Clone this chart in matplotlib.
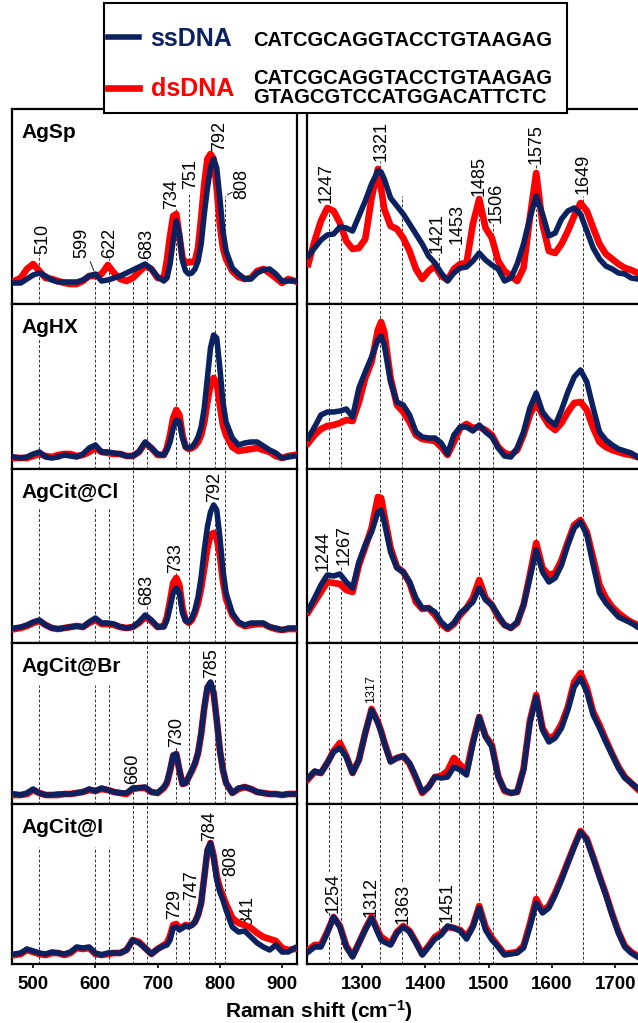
import matplotlib
matplotlib.use('Agg')
import matplotlib.pyplot as plt

plt.rcParams['font.family'] = ['Liberation Sans', 'DejaVu Sans']
plt.rcParams['mathtext.fontset'] = 'custom'
plt.rcParams['mathtext.bf'] = 'Liberation Sans:bold'
plt.rcParams['mathtext.rm'] = 'Liberation Sans'
plt.rcParams['mathtext.default'] = 'bf'

# amostras (linhas de paineis)
samples = ['AgSp', 'AgHX', 'AgCit@Cl', 'AgCit@Br', 'AgCit@I']

# deslocamento Raman (cm-1), faixa baixa e faixa alta
x_low = [470, 480, 490, 500, 510, 520, 530, 540, 550, 560, 570, 580, 590, 600, 610, 620,
         630, 640, 650, 660, 670, 680, 690, 700, 710, 715, 720, 725, 730, 735, 740, 745,
         750, 755, 760, 765, 770, 775, 780, 785, 790, 795, 800, 805, 810, 820, 830, 840,
         850, 860, 870, 880, 890, 900, 910, 920]
x_high = [1215, 1225, 1235, 1245, 1255, 1265, 1275, 1285, 1295, 1305, 1315, 1325, 1330,
          1335, 1345, 1355, 1365, 1375, 1385, 1395, 1405, 1415, 1425, 1435, 1445, 1455,
          1465, 1475, 1485, 1495, 1505, 1515, 1525, 1535, 1545, 1555, 1565, 1575, 1585,
          1595, 1605, 1615, 1625, 1635, 1645, 1655, 1665, 1675, 1685, 1695, 1705, 1715,
          1725, 1735]

# intensidades (u.a.) - ssDNA
ss_low = [
    [21, 21, 25, 29, 31, 28, 24, 22, 22, 22, 22, 24, 28, 30, 23, 24, 26, 28, 31, 34, 37, 40, 35, 27, 23,
     26, 40, 63, 83, 70, 43, 33, 30, 31, 35, 43, 60, 90, 116, 136, 145, 136, 106, 73, 53,
     36, 30, 25, 25, 31, 34, 35, 30, 23, 23, 23],
    [12, 11, 12, 15, 17, 12, 11, 12, 14, 13, 12, 15, 21, 24, 17, 17, 16, 15, 13, 13, 17, 27, 21, 15, 14,
     19, 27, 41, 49, 47, 31, 22, 21, 22, 26, 32, 42, 61, 91, 121, 134, 131, 101, 67, 47,
     31, 24, 26, 27, 27, 23, 19, 16, 11, 12, 13],
    [15, 16, 18, 21, 23, 18, 15, 14, 15, 16, 17, 16, 21, 25, 20, 20, 19, 16, 15, 16, 21, 28, 23, 16, 16,
     23, 36, 50, 55, 50, 30, 22, 21, 25, 33, 46, 66, 93, 116, 131, 138, 133, 106, 73, 50,
     30, 21, 18, 20, 20, 20, 16, 15, 13, 15, 15],
    [10, 9, 11, 15, 11, 9, 9, 10, 10, 10, 11, 12, 15, 13, 16, 14, 12, 11, 11, 16, 16, 17, 12, 11, 17,
     22, 34, 49, 50, 34, 20, 21, 27, 34, 41, 51, 71, 97, 117, 122, 111, 84, 54, 34, 21,
     11, 16, 17, 15, 12, 11, 10, 10, 9, 10, 10],
    [10, 11, 15, 13, 11, 10, 12, 11, 10, 12, 17, 16, 17, 11, 9, 11, 11, 11, 14, 24, 21, 16, 10, 15, 18,
     19, 24, 36, 37, 34, 36, 38, 37, 39, 42, 49, 61, 87, 114, 121, 106, 84, 72, 64, 54,
     37, 32, 33, 27, 21, 17, 14, 19, 12, 12, 16],
]
ss_high = [
    [48, 56, 64, 69, 70, 77, 76, 73, 88, 103, 120, 133, 132, 125, 106, 98, 90, 80, 70, 60, 48, 41, 31,
     23, 31, 36, 37, 43, 51, 44, 39, 35, 23, 26, 40, 60, 86, 108, 90, 68, 71, 85, 93, 96, 90, 73,
     56, 45, 38, 35, 31, 30, 26, 25],
    [31, 42, 54, 57, 57, 58, 60, 52, 81, 97, 112, 129, 133, 124, 87, 67, 64, 54, 37, 32, 31, 31, 26,
     15, 34, 42, 42, 38, 44, 37, 32, 21, 13, 12, 21, 37, 61, 76, 57, 49, 44, 59, 77, 92, 99, 87,
     61, 37, 29, 24, 20, 18, 16, 12],
    [33, 45, 58, 68, 67, 69, 61, 55, 81, 98, 111, 131, 133, 121, 91, 75, 71, 61, 45, 35, 35, 31, 21,
     15, 20, 30, 35, 41, 55, 43, 38, 28, 18, 15, 21, 38, 65, 93, 71, 61, 65, 78, 98, 115, 121, 108,
     78, 50, 40, 33, 26, 23, 20, 16],
    [26, 33, 31, 41, 52, 56, 47, 31, 44, 71, 94, 81, 72, 61, 42, 46, 48, 41, 27, 12, 17, 27, 26,
     27, 37, 34, 29, 60, 87, 67, 57, 27, 14, 11, 12, 34, 81, 107, 74, 62, 66, 76, 94, 117, 126, 112,
     89, 76, 62, 49, 36, 26, 21, 16],
    [12, 17, 17, 31, 47, 37, 17, 7, 21, 34, 46, 31, 24, 22, 19, 31, 37, 32, 21, 9, 17, 25, 29,
     38, 36, 33, 25, 37, 56, 34, 24, 17, 9, 10, 11, 16, 37, 61, 51, 56, 69, 84, 101, 117, 132, 124,
     106, 87, 69, 49, 31, 17, 11, 7],
]

# intensidades (u.a.) - dsDNA
ds_low = [
    [23, 26, 35, 40, 33, 26, 25, 23, 21, 20, 20, 23, 28, 28, 30, 39, 31, 25, 23, 26, 32, 38, 35, 26, 26,
     44, 68, 88, 90, 68, 46, 41, 42, 42, 43, 56, 86, 120, 145, 150, 145, 116, 80, 56, 45,
     33, 27, 25, 26, 33, 35, 31, 26, 21, 25, 23],
    [11, 11, 11, 13, 15, 13, 12, 14, 15, 15, 13, 14, 17, 21, 17, 16, 15, 15, 13, 13, 17, 26, 21, 14, 14,
     21, 34, 51, 59, 54, 34, 22, 20, 21, 23, 27, 34, 47, 67, 84, 91, 86, 64, 44, 34,
     22, 18, 19, 20, 21, 19, 17, 13, 11, 13, 14],
    [14, 15, 17, 20, 22, 18, 15, 14, 15, 16, 17, 16, 20, 23, 19, 19, 18, 16, 15, 16, 20, 26, 22, 16, 17,
     26, 42, 60, 65, 58, 35, 23, 20, 23, 30, 40, 55, 75, 95, 108, 110, 105, 88, 62, 44,
     28, 20, 17, 18, 19, 19, 16, 14, 13, 14, 14],
    [9, 9, 10, 14, 11, 9, 9, 9, 10, 10, 11, 12, 14, 13, 15, 14, 12, 11, 10, 15, 16, 16, 12, 11, 16,
     21, 33, 48, 50, 34, 20, 21, 27, 33, 40, 51, 70, 96, 116, 121, 111, 84, 54, 34, 21,
     11, 15, 17, 15, 12, 11, 10, 10, 9, 10, 10],
    [9, 10, 14, 12, 10, 9, 11, 11, 9, 11, 16, 15, 16, 10, 9, 10, 11, 11, 14, 24, 22, 16, 10, 15, 19,
     21, 28, 39, 40, 36, 37, 39, 38, 39, 42, 49, 61, 87, 113, 121, 108, 88, 76, 68, 60,
     46, 41, 39, 36, 31, 27, 25, 23, 16, 14, 15],
]
ds_high = [
    [40, 63, 83, 96, 93, 81, 63, 55, 56, 65, 106, 135, 116, 95, 78, 75, 66, 53, 35, 25, 33, 38, 28,
     24, 35, 40, 41, 80, 105, 76, 66, 43, 33, 28, 23, 36, 86, 131, 80, 53, 51, 60, 73, 88, 101, 93,
     76, 60, 50, 45, 40, 36, 34, 31],
    [26, 34, 40, 43, 44, 46, 49, 48, 67, 91, 107, 139, 147, 137, 91, 64, 57, 47, 34, 30, 29, 28, 22,
     14, 27, 41, 45, 41, 42, 39, 34, 22, 16, 14, 19, 34, 54, 67, 54, 44, 39, 46, 57, 66, 67, 59,
     41, 27, 22, 19, 17, 15, 14, 12],
    [31, 41, 51, 61, 60, 59, 53, 51, 78, 96, 115, 146, 145, 128, 95, 76, 71, 60, 41, 34, 35, 28, 19,
     14, 19, 28, 35, 45, 63, 45, 38, 26, 18, 15, 20, 38, 68, 100, 75, 68, 70, 83, 101, 118, 123, 111,
     85, 58, 45, 36, 30, 25, 21, 18],
    [25, 32, 31, 41, 53, 61, 48, 31, 44, 71, 95, 82, 73, 62, 43, 46, 48, 40, 26, 11, 17, 27, 28,
     33, 46, 39, 33, 62, 87, 68, 59, 28, 13, 11, 12, 35, 83, 109, 76, 65, 69, 80, 97, 122, 131, 116,
     92, 79, 64, 50, 37, 27, 21, 15],
    [14, 19, 19, 32, 47, 38, 18, 8, 21, 35, 47, 33, 27, 25, 20, 32, 38, 33, 22, 10, 18, 27, 31,
     37, 36, 34, 27, 38, 58, 37, 26, 18, 10, 11, 12, 18, 40, 65, 53, 58, 71, 86, 102, 118, 133, 125,
     107, 88, 70, 50, 32, 18, 12, 8],
]

# linhas de referencia (cm-1)
ref_low = [510, 599, 622, 660, 683, 730, 751, 792, 808]
ref_high = [1247, 1267, 1328, 1363, 1421, 1453, 1485, 1506, 1575, 1649]

# rotulos dos picos: (texto, x, y)
peaks_low = [
    [('510', 516, 50), ('599', 578, 46), ('622', 623, 46), ('683', 683, 45), ('734', 723, 95),
     ('751', 753, 115), ('792', 800, 153), ('808', 835, 105)],
    [],
    [('683', 683, 38), ('733', 729, 70), ('792', 792, 141)],
    [('660', 660, 20), ('730', 731, 57), ('785', 787, 126)],
    [('729', 727, 45), ('747', 755, 64), ('784', 784, 123), ('808', 818, 88), ('841', 845, 38)],
]
peaks_high = [
    [('1247', 1243, 101), ('1321', 1330, 143), ('1421', 1418, 51), ('1453', 1450, 60),
     ('1485', 1485, 108), ('1506', 1512, 81), ('1575', 1575, 140), ('1649', 1649, 110)],
    [],
    [('1244', 1238, 72), ('1267', 1271, 78)],
    [('1317', 1314, 101)],
    [('1254', 1254, 51), ('1312', 1314, 47), ('1363', 1365, 40), ('1451', 1435, 42)],
]

# onde cada linha tracejada termina (abaixo dos rotulos)
tops_low = [
    {510: 50, 599: 31, 622: 46, 660: 25, 683: 45, 730: 95, 751: 112, 792: 150, 808: 108},
    {510: 131},
    {510: 135, 599: 135, 622: 135, 683: 38, 730: 70, 792: 141},
    {510: 119, 599: 119, 622: 119, 660: 20, 730: 57, 792: 126},
    {510: 117, 599: 117, 622: 117, 730: 42, 751: 64, 792: 114, 808: 88},
]
tops_high = [
    {1247: 95, 1267: 66, 1328: 143, 1363: 108, 1421: 50, 1453: 58, 1485: 108, 1506: 80,
     1575: 140, 1649: 108},
    {}, {1247: 72, 1267: 78}, {}, {},
]

c_ss = '#0b2160'
c_ds = '#ff0000'

W, H = 638, 1023
fig = plt.figure(figsize=(W / 100, H / 100), dpi=100)
row_edges = [109, 304, 469, 643, 804, 964]

handles = None
for i, name in enumerate(samples):
    top, bot = row_edges[i], row_edges[i + 1]
    h = bot - top
    axL = fig.add_axes([12 / W, 1 - bot / H, 285 / W, h / H])
    axR = fig.add_axes([307 / W, 1 - bot / H, 340 / W, h / H])
    cols = [
        (axL, x_low, ss_low[i], ds_low[i], ref_low, tops_low[i], peaks_low[i], (466, 924),
         [500, 600, 700, 800, 900]),
        (axR, x_high, ss_high[i], ds_high[i], ref_high, tops_high[i], peaks_high[i], (1213, 1750),
         [1300, 1400, 1500, 1600, 1700]),
    ]
    for ax, x, ss, ds, refs, tops, peaks, xlim, ticks in cols:
        ax.set_xlim(xlim)
        ax.set_ylim(0, h)
        for r in refs:
            ax.vlines(r, 0, tops.get(r, h), colors='0.2', linestyles=(0, (3, 2)), lw=0.7, zorder=1)
        l_ds, = ax.plot(x, ds, color=c_ds, lw=4.8, solid_joinstyle='round', zorder=3)
        l_ss, = ax.plot(x, ss, color=c_ss, lw=4.0, solid_joinstyle='round', zorder=4)
        if handles is None:
            handles = [l_ss, l_ds]
        for txt, px, py in peaks:
            fs = 9 if txt == '1317' else 13
            ax.text(px, py, txt, rotation=90, ha='center', va='bottom', fontsize=fs,
                    zorder=2, bbox=dict(fc='white', ec='none', pad=0))
        ax.set_yticks([])
        for sp in ax.spines.values():
            sp.set_linewidth(1.6)
        if i == len(samples) - 1:
            ax.set_xticks(ticks)
            ax.tick_params(axis='x', direction='out', length=3, width=1.2, labelsize=13.5, pad=5.5)
            for t in ax.get_xticklabels():
                t.set_fontweight('bold')
        else:
            ax.set_xticks([])
    axL.annotate(name, xy=(0.035, 1), xycoords='axes fraction', xytext=(0, -17),
                 textcoords='offset points', va='center', ha='left', fontsize=15,
                 fontweight='bold')
    if i == 0:
        # linhas-guia dos rotulos 599 e 808
        axL.annotate('', xy=(599, 31), xytext=(590, 45),
                     arrowprops=dict(arrowstyle='-', lw=0.8, color='0.2'))
        axL.annotate('', xy=(808, 108), xytext=(824, 113),
                     arrowprops=dict(arrowstyle='-', lw=0.8, color='0.2'))

fig.text(0.5, 1 - 1011 / H, r'Raman shift (cm$^{-1}$)', ha='center', va='center',
         fontsize=15, fontweight='bold')

# caixa da legenda
lax = fig.add_axes([104 / W, 1 - 113 / H, 463 / W, 110 / H])
lax.set_xlim(0, 463)
lax.set_ylim(110, 0)
lax.set_xticks([])
lax.set_yticks([])
lax.set_facecolor('white')
for sp in lax.spines.values():
    sp.set_linewidth(1.5)
lax.legend(handles=handles, labels=['ssDNA', 'dsDNA'], loc='upper left',
           bbox_to_anchor=(4 / 463, 1 - 24 / 110), borderaxespad=0, borderpad=0,
           frameon=False, handlelength=1.25, handletextpad=0.45, labelspacing=1.05,
           prop={'weight': 'bold', 'size': 18}, labelcolor=[c_ss, c_ds])
lax.text(149, 37, 'CATCGCAGGTACCTGTAAGAG', fontsize=14.5, fontweight='bold', va='center')
lax.text(149, 85, 'CATCGCAGGTACCTGTAAGAG\nGTAGCGTCCATGGACATTCTC', fontsize=14.5,
         fontweight='bold', va='center', linespacing=0.95)

plt.savefig('out.png', dpi=100)
